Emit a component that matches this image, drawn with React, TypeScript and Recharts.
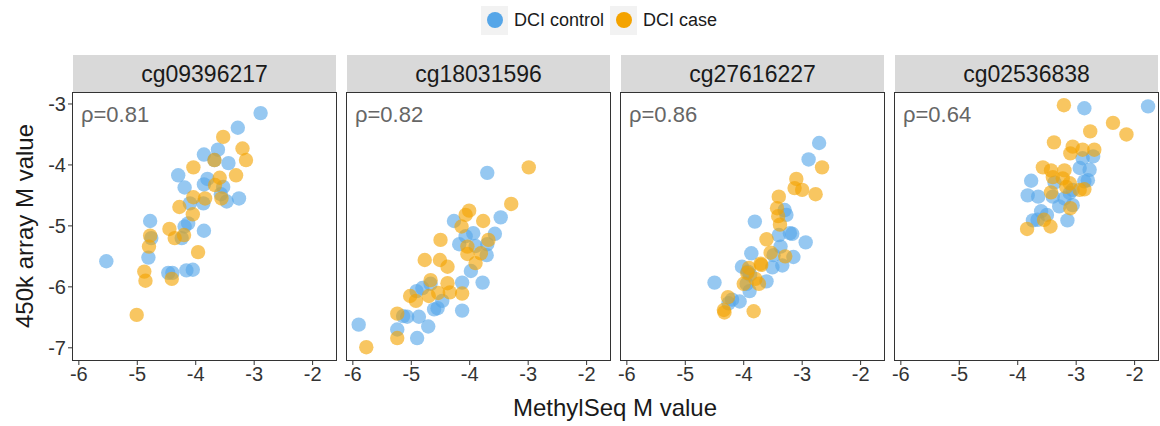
import React from 'react';
import { ScatterChart, Scatter, XAxis, YAxis } from 'recharts';

// facet titles and correlation labels
const probes = ['cg09396217', 'cg18031596', 'cg27616227', 'cg02536838'];
const rhoLabels = ['ρ=0.81', 'ρ=0.82', 'ρ=0.86', 'ρ=0.64'];
const xTicks = [-6, -5, -4, -3, -2];
const yTicks = [-7, -6, -5, -4, -3];
const seriesNames = ['DCI control', 'DCI case'];

// [MethylSeq M, 450k M] pairs
const control1 = [
  [-2.89, -3.15], [-3.28, -3.39], [-3.86, -3.83], [-3.62, -3.75], [-3.44, -3.97], [-4.3, -4.17],
  [-3.8, -4.23], [-3.86, -4.32], [-4.19, -4.37], [-3.53, -4.36], [-3.57, -4.48], [-3.47, -4.6],
  [-3.26, -4.55], [-4.1, -4.63], [-3.87, -4.63], [-4.78, -4.92], [-4.13, -4.96], [-4.19, -5.01],
  [-3.86, -5.08], [-4.76, -5.2], [-4.24, -5.2], [-4.81, -5.52], [-5.53, -5.58], [-4.47, -5.77],
  [-4.4, -5.77], [-4.16, -5.73], [-4.05, -5.72], [-3.68, -3.92],
];
const case1 = [
  [-3.53, -3.54], [-3.2, -3.73], [-3.14, -3.92], [-3.68, -3.92], [-4.04, -4.04], [-3.59, -4.21],
  [-3.31, -4.17], [-3.67, -4.33], [-4.04, -4.53], [-3.84, -4.55], [-3.56, -4.55], [-4.28, -4.69],
  [-4.05, -4.81], [-4.45, -5.05], [-4.36, -5.2], [-4.2, -5.15], [-4.78, -5.16], [-4.8, -5.34],
  [-3.96, -5.43], [-4.88, -5.75], [-4.86, -5.9], [-4.41, -5.87], [-5.01, -6.46],
];
const control2 = [
  [-3.7, -4.13], [-3.47, -4.86], [-4.27, -4.92], [-3.94, -5.12], [-4.07, -5.17], [-3.57, -5.13],
  [-4.18, -5.3], [-3.7, -5.3], [-3.71, -5.48], [-3.9, -5.33], [-3.98, -5.74], [-4.13, -5.93],
  [-3.78, -5.93], [-4.91, -6.07], [-4.81, -6.02], [-4.67, -5.95], [-4.47, -6.23], [-4.61, -6.37],
  [-4.55, -6.35], [-4.13, -6.39], [-5.07, -6.49], [-5.14, -6.48], [-4.87, -6.49], [-4.71, -6.65],
  [-5.24, -6.7], [-5.9, -6.62], [-4.9, -6.84],
];
const case2 = [
  [-2.99, -4.04], [-3.29, -4.64], [-4.01, -4.75], [-4.07, -4.82], [-3.77, -4.92], [-4.14, -5.01],
  [-4.5, -5.23], [-3.68, -5.23], [-4.04, -5.34], [-4.04, -5.46], [-3.81, -5.45], [-3.9, -5.61],
  [-4.77, -5.56], [-4.51, -5.56], [-4.38, -5.67], [-4.67, -5.89], [-4.38, -5.94], [-5.02, -6.15],
  [-4.92, -6.23], [-4.7, -6.15], [-4.54, -6.1], [-4.34, -6.09], [-4.13, -6.11], [-5.24, -6.44],
  [-5.24, -6.84], [-5.77, -6.99],
];
const control3 = [
  [-2.71, -3.64], [-2.89, -3.91], [-3.3, -4.74], [-3.27, -4.82], [-3.81, -4.93], [-3.4, -5.15],
  [-3.21, -5.12], [-3.17, -5.13], [-2.94, -5.27], [-3.37, -5.34], [-3.87, -5.45], [-3.49, -5.48],
  [-3.15, -5.51], [-3.34, -5.65], [-3.51, -5.68], [-4.03, -5.67], [-3.93, -5.75], [-4.5, -5.93],
  [-3.61, -5.91], [-3.95, -5.95], [-3.9, -6.07], [-4.2, -6.21], [-4.07, -6.24], [-4.26, -6.27],
  [-3.89, -5.8],
];
const case3 = [
  [-2.66, -4.04], [-3.1, -4.23], [-3.13, -4.38], [-3.0, -4.41], [-2.77, -4.48], [-3.4, -4.52],
  [-3.43, -4.71], [-3.41, -4.84], [-3.38, -4.98], [-3.61, -5.22], [-3.54, -5.44], [-3.29, -5.5],
  [-3.71, -5.62], [-3.91, -5.69], [-3.94, -5.77], [-3.8, -5.87], [-3.74, -5.95], [-4.0, -5.95],
  [-4.27, -6.17], [-4.34, -6.38], [-3.83, -6.4], [-4.33, -6.42], [-3.7, -5.64],
];
const control4 = [
  [-1.77, -3.04], [-2.86, -3.07], [-2.89, -3.89], [-2.71, -3.86], [-2.94, -4.05], [-2.77, -4.08],
  [-2.8, -4.25], [-2.86, -4.27], [-3.77, -4.26], [-3.37, -4.29], [-3.06, -4.41], [-3.83, -4.5],
  [-3.65, -4.52], [-3.4, -4.52], [-3.2, -4.55], [-3.06, -4.66], [-3.29, -4.68], [-3.6, -4.76],
  [-3.5, -4.82], [-3.74, -4.91], [-3.66, -4.9], [-3.15, -4.91], [-3.11, -4.46],
];
const case4 = [
  [-3.21, -3.02], [-2.37, -3.31], [-2.14, -3.5], [-2.76, -3.45], [-3.38, -3.63], [-3.06, -3.7],
  [-3.1, -3.81], [-2.89, -3.75], [-2.69, -3.75], [-3.57, -4.04], [-3.43, -4.09], [-3.2, -4.09],
  [-3.4, -4.2], [-3.23, -4.22], [-3.17, -4.36], [-2.86, -4.4], [-2.94, -4.41], [-3.43, -4.45],
  [-3.1, -4.71], [-3.55, -4.9], [-3.44, -5.01], [-3.84, -5.05], [-3.11, -4.3],
];

const controls = [control1, control2, control3, control4];
const cases = [case1, case2, case3, case4];

const BLUE = '#56A6E8';
const ORANGE = '#F4A300';
const FONT = '"Liberation Sans", Arial, Helvetica, sans-serif';

const PANEL_LEFT = [73, 347, 621, 895];
const PANEL_W = 263;
const PANEL_TOP = 93;
const PANEL_H = 267;

const toPoints = (pairs: number[][]) => pairs.map(([x, y]) => ({ x, y }));

const dot = (color: string) => (p: any) => (
  <circle cx={p.cx} cy={p.cy} r={7.2} fill={color} fillOpacity={0.62} />
);

function Panel({ i }: { i: number }) {
  const first = i === 0;
  const padL = first ? 60 : 20;
  return (
    <div style={{ position: 'absolute', left: PANEL_LEFT[i] - padL, top: PANEL_TOP - 10 }}>
      <ScatterChart
        width={padL + PANEL_W + 10}
        height={10 + PANEL_H + 40}
        margin={{ top: 10, right: 10, bottom: 0, left: first ? 0 : 20 }}
      >
        <XAxis
          type="number"
          dataKey="x"
          domain={[-6.1, -1.6]}
          ticks={xTicks}
          interval={0}
          allowDataOverflow
          height={40}
          axisLine={false}
          stroke="#333"
          tickSize={5}
          tickMargin={2}
          tick={{ fill: '#333', fontSize: 20 }}
        />
        <YAxis
          type="number"
          dataKey="y"
          domain={[-7.2, -2.82]}
          ticks={yTicks}
          interval={0}
          allowDataOverflow
          hide={!first}
          width={60}
          axisLine={false}
          stroke="#333"
          tickSize={5}
          tickMargin={2}
          tick={{ fill: '#333', fontSize: 20 }}
        />
        <Scatter data={toPoints(controls[i])} shape={dot(BLUE)} isAnimationActive={false} />
        <Scatter data={toPoints(cases[i])} shape={dot(ORANGE)} isAnimationActive={false} />
      </ScatterChart>
    </div>
  );
}

export default function App() {
  return (
    <div style={{ position: 'relative', width: 1160, height: 426, overflow: 'hidden', background: '#fff', fontFamily: FONT }}>
      <style>{`body{margin:0}`}</style>

      {/* legend */}
      {seriesNames.map((name, k) => {
        const keyLeft = k === 0 ? 481 : 610;
        const color = k === 0 ? BLUE : ORANGE;
        return (
          <React.Fragment key={name}>
            <div style={{ position: 'absolute', left: keyLeft, top: 6, width: 27, height: 29, background: '#f2f2f2' }}>
              <div style={{ position: 'absolute', left: 6, top: 6, width: 16, height: 16, borderRadius: 8, background: color }} />
            </div>
            <div style={{ position: 'absolute', left: keyLeft + 33, top: 8, fontSize: 18, lineHeight: '24px', color: '#1a1a1a' }}>
              {name}
            </div>
          </React.Fragment>
        );
      })}

      {/* strips */}
      {probes.map((p, i) => (
        <div
          key={p}
          style={{
            position: 'absolute', left: PANEL_LEFT[i], top: 55, width: PANEL_W, height: PANEL_TOP - 55,
            background: '#d9d9d9', textAlign: 'center', fontSize: 23, lineHeight: `${PANEL_TOP - 55}px`, color: '#1a1a1a',
          }}
        >
          {p}
        </div>
      ))}

      {probes.map((p, i) => <Panel key={p} i={i} />)}

      {/* panel borders + rho */}
      {probes.map((p, i) => (
        <div
          key={p + 'b'}
          style={{
            position: 'absolute', left: PANEL_LEFT[i] - 1, top: PANEL_TOP - 1, width: PANEL_W + 2, height: PANEL_H + 2,
            border: '1.5px solid #333', boxSizing: 'border-box', pointerEvents: 'none',
          }}
        >
          <div style={{ position: 'absolute', left: 8, top: 10, fontSize: 22, lineHeight: '24px', color: '#666' }}>
            {rhoLabels[i]}
          </div>
        </div>
      ))}

      {/* axis titles */}
      <div
        style={{
          position: 'absolute', left: 25, top: 226, transform: 'translate(-50%, -50%) rotate(-90deg)',
          whiteSpace: 'nowrap', fontSize: 24, color: '#1a1a1a',
        }}
      >
        450k array M value
      </div>
      <div
        style={{
          position: 'absolute', left: 615, top: 408, transform: 'translate(-50%, -50%)',
          whiteSpace: 'nowrap', fontSize: 24, color: '#1a1a1a',
        }}
      >
        MethylSeq M value
      </div>
    </div>
  );
}
